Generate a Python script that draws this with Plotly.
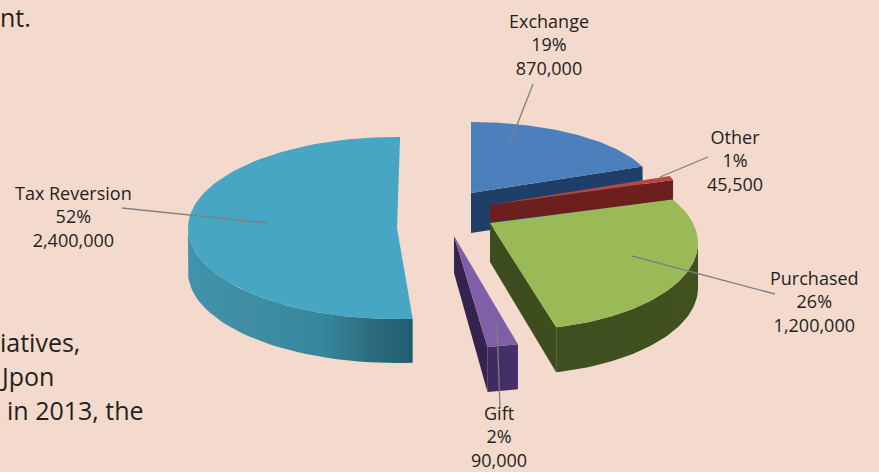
import math
import numpy as np
import plotly.graph_objects as go

# ---- data ----
categories = ["Exchange", "Other", "Purchased", "Gift", "Tax Reversion"]
acres = [870000, 45500, 1200000, 90000, 2400000]
percent_labels = ["19%", "1%", "26%", "2%", "52%"]
value_labels = ["870,000", "45,500", "1,200,000", "90,000", "2,400,000"]

# ---- view styling of the exploded, tilted wedges ----
apex = {"Exchange": (471, 193), "Other": (490, 205), "Purchased": (490, 223), "Gift": (454, 236), "Tax Reversion": (397, 228)}
arc_centre = {"Exchange": (471, 193), "Other": (490, 205), "Purchased": (510, 243), "Gift": (454, 236), "Tax Reversion": (396, 228)}
radii = {"Exchange": (185, 71), "Other": (193, 79), "Purchased": (188, 87), "Gift": (253, 112), "Tax Reversion": (208, 91)}
phase_shift = {"Exchange": 0, "Other": 0, "Purchased": 11.6, "Gift": 0, "Tax Reversion": -3}
stretch = {"Exchange": 1, "Other": 1, "Purchased": 1.128, "Gift": 1, "Tax Reversion": 0.99}
depth_arc = {"Exchange": 40, "Other": 20, "Purchased": 45, "Gift": 45, "Tax Reversion": 44}
depth_apex = {"Exchange": 40, "Other": 17, "Purchased": 39, "Gift": 37, "Tax Reversion": 44}
top_col = {"Exchange": "#4b80bd", "Other": "#b8483f", "Purchased": "#9aba58", "Gift": "#7f60a6", "Tax Reversion": "#46a6c4"}
wall_scale = {
    "Exchange": [[0, "#1f3f68"], [1, "#1f3f68"]],
    "Other": [[0, "#6c1f1d"], [1, "#6c1f1d"]],
    "Purchased": [[0, "#3f5020"], [1, "#40501f"]],
    "Gift": [[0, "#3f2b60"], [1, "#46306a"]],
    "Tax Reversion": [[0, "#3f93aa"], [0.25, "#3f8ea6"], [0.6, "#35879c"], [0.8, "#2e6d80"], [1, "#205f6f"]],
}
cut_col = {"Exchange": "#1f3f68", "Other": "#6c1f1d", "Purchased": "#3d4d1e", "Gift": "#33244f", "Tax Reversion": None}
draw_order = ["Tax Reversion", "Exchange", "Other", "Gift", "Purchased"]

label_pos = {"Exchange": (549, 44), "Other": (735, 160), "Purchased": (814, 301), "Gift": (499, 436), "Tax Reversion": (73, 216)}
leaders = {
    "Exchange": ((533, 84), (510, 143)),
    "Other": ((708, 157), (660, 177)),
    "Purchased": ((775, 294), (632, 256)),
    "Gift": ((500, 408), (497, 323)),
    "Tax Reversion": ((122, 208), (267, 223)),
}
cut_text = [("nt.", 0, 17), ("iatives,", 0, 342), ("Jpon", 0, 376), ("in 2013, the", 7, 410)]

total = sum(acres)
arcs = {}
a0 = 90.0
for c, v in zip(categories, acres):
    sweep = 360.0 * v / total
    s = a0 + phase_shift[c]
    t = np.linspace(s, s - sweep * stretch[c], 80)
    cx, cy = arc_centre[c]
    rx, ry = radii[c]
    arcs[c] = (cx + rx * np.cos(np.radians(t)), cy - ry * np.sin(np.radians(t)), np.sin(np.radians(t)))
    a0 -= sweep

fig = go.Figure()


def poly(xs, ys, color=None, scale=None):
    kw = dict(x=list(xs), y=list(ys), mode="lines", fill="toself", line=dict(width=0),
              hoverinfo="skip", showlegend=False)
    if scale:
        kw["fillgradient"] = dict(type="horizontal", colorscale=scale)
        kw["fillcolor"] = scale[0][1]
    else:
        kw["fillcolor"] = color
    fig.add_trace(go.Scatter(**kw))


for c in draw_order:
    ax, ay = apex[c]
    xs, ys, sn = arcs[c]
    d = depth_arc[c]
    da = depth_apex[c]
    # outer wall: only the part of the rim that faces the viewer
    m = sn <= 0
    if m.sum() > 1:
        poly(np.r_[xs[m], xs[m][::-1]], np.r_[ys[m], ys[m][::-1] + d], scale=wall_scale[c])
    # cut face at the end of the arc
    if cut_col[c]:
        poly([ax, xs[-1], xs[-1], ax], [ay, ys[-1], ys[-1] + d, ay + da], color=cut_col[c])
    # top face
    poly(np.r_[ax, xs, ax], np.r_[ay, ys, ay], color=top_col[c])

for c in categories:
    (x0, y0), (x1, y1) = leaders[c]
    fig.add_trace(go.Scatter(x=[x0, x1], y=[y0, y1], mode="lines", line=dict(color="#7f7f80", width=1.3),
                             hoverinfo="skip", showlegend=False))

annotations = []
for c, p, v in zip(categories, percent_labels, value_labels):
    lx, ly = label_pos[c]
    annotations.append(dict(x=lx, y=ly, xref="x", yref="y", showarrow=False, align="center",
                            text=f"{c}<br>{p}<br>{v}", font=dict(family="Open Sans", size=18, color="#231f20")))
for txt, x, y in cut_text:
    annotations.append(dict(x=x, y=y, xref="x", yref="y", xanchor="left", yanchor="middle", xshift=-1, showarrow=False,
                            borderpad=0, text=txt, font=dict(family="Open Sans", size=25, color="#231f20")))

fig.update_layout(
    width=879, height=472, margin=dict(l=0, r=0, t=0, b=0),
    paper_bgcolor="#f4dacd", plot_bgcolor="#f4dacd",
    xaxis=dict(range=[0, 879], visible=False, fixedrange=True),
    yaxis=dict(range=[472, 0], visible=False, fixedrange=True),
    annotations=annotations,
)
fig.write_html("out.html", config={"displayModeBar": False},
               post_script="document.body.style.margin='0';document.body.style.background='#f4dacd';")
